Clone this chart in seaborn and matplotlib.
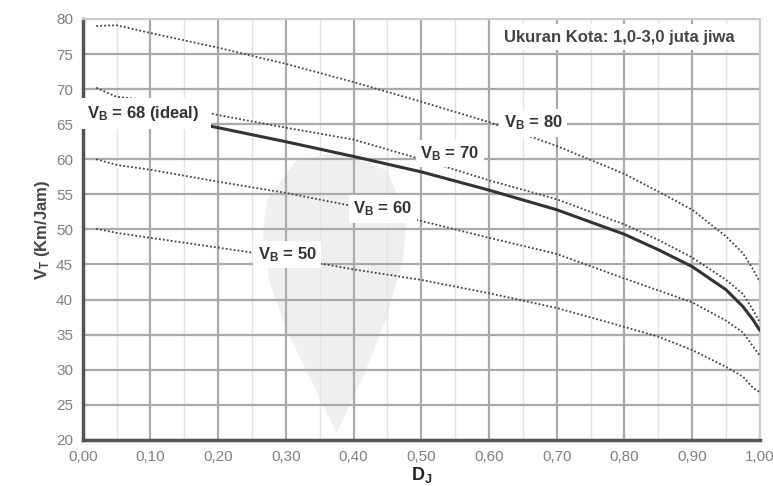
import matplotlib
matplotlib.use("Agg")
import matplotlib.pyplot as plt
import seaborn as sns
from matplotlib.ticker import MultipleLocator, FuncFormatter

sns.set_style("white")
plt.rcParams['font.family'] = ['Liberation Sans', 'DejaVu Sans']
plt.rcParams['mathtext.fontset'] = 'custom'
plt.rcParams['mathtext.rm'] = 'Liberation Sans'
plt.rcParams['mathtext.bf'] = 'Liberation Sans:bold'

# Data
dj = [0.02, 0.05, 0.10, 0.20, 0.30, 0.40, 0.50, 0.60, 0.70, 0.80, 0.85, 0.90, 0.95, 0.975, 0.99, 1.00]
vb80 = [79.0, 79.1, 78.0, 75.9, 73.6, 71.0, 68.2, 65.3, 61.9, 57.9, 55.4, 52.8, 49.0, 46.6, 44.3, 42.5]
vb70 = [70.2, 68.9, 68.4, 66.3, 64.5, 62.8, 60.0, 57.0, 54.3, 50.7, 48.5, 46.0, 42.8, 40.8, 38.5, 36.7]
vb68 = [68.0, 67.4, 66.3, 64.5, 62.5, 60.4, 58.2, 55.6, 52.8, 49.3, 47.1, 44.7, 41.4, 39.0, 37.1, 35.6]
vb60 = [60.0, 59.2, 58.5, 56.8, 55.2, 53.3, 51.2, 48.8, 46.5, 43.0, 41.3, 39.6, 37.0, 35.3, 33.3, 32.0]
vb50 = [50.1, 49.5, 48.8, 47.4, 46.0, 44.3, 42.8, 40.9, 38.8, 36.1, 34.7, 32.8, 30.4, 29.0, 27.4, 26.8]

labels = ["= 80", "= 70", "= 60", "= 50"]
label_pos = [(0.665, 65.2), (0.542, 60.8), (0.443, 52.9), (0.302, 46.4)]
ideal_label = "= 68 (ideal)"
ideal_pos = (0.006, 66.5)

fig = plt.figure(figsize=(7.73, 4.86), dpi=100)
ax = fig.add_axes([0.107, 0.095, 0.876, 0.866])

# faint watermark drop behind the grid
drop_x = [0.375, 0.303, 0.276, 0.266, 0.272, 0.316, 0.38, 0.449, 0.478, 0.473, 0.449, 0.414, 0.375]
drop_y = [21.0, 35.3, 42.4, 49.5, 54.2, 59.9, 60.9, 58.5, 51.8, 45.7, 37.5, 29.0, 21.0]
ax.fill(drop_x, drop_y, color='#efefef', zorder=0.1, lw=0)

dot = (0, (1, 1.2))
for ys in [vb80, vb70, vb60, vb50]:
    sns.lineplot(x=dj, y=ys, ax=ax, color='#444444', lw=1.3, linestyle=dot, zorder=3)
sns.lineplot(x=dj, y=vb68, ax=ax, color='#333333', lw=2.2, zorder=3)

for txt, (x, y) in zip(labels, label_pos):
    ax.text(x, y, r'$\mathbf{V_B}$ ' + txt, ha='center', va='center', fontsize=12,
            fontweight='bold', color='#333333', zorder=5,
            bbox=dict(facecolor='white', edgecolor='none', pad=3.2))

# ideal label sits over the left spine, with extra room on the right
ax.text(ideal_pos[0], ideal_pos[1], r'$\mathbf{V_B}$ ' + ideal_label + '  ', ha='left', va='center',
        fontsize=12, fontweight='bold', color='#333333', zorder=5, clip_on=False,
        bbox=dict(facecolor='white', edgecolor='none', pad=4.5))

ax.text(0.792, 77.4, 'Ukuran Kota: 1,0-3,0 juta jiwa', ha='center', va='center',
        fontsize=12, fontweight='bold', color='#444444', zorder=5,
        bbox=dict(facecolor='white', edgecolor='none', pad=4))

ax.set_xlim(0, 1.0)
ax.set_ylim(20, 80)
ax.xaxis.set_major_locator(MultipleLocator(0.1))
ax.xaxis.set_minor_locator(MultipleLocator(0.05))
ax.yaxis.set_major_locator(MultipleLocator(5))
ax.yaxis.set_minor_locator(MultipleLocator(2.5))
ax.xaxis.set_major_formatter(FuncFormatter(lambda v, p: f"{v:.2f}".replace('.', ',')))
ax.grid(which='major', color='#aaaaaa', lw=1.6, zorder=1)
ax.grid(which='minor', axis='x', color='#e4e4e4', lw=1.0, zorder=1)
ax.tick_params(which='both', direction='in', length=4, width=1.2, color='#444444',
               labelsize=11, labelcolor='#808080')
ax.tick_params(which='major', pad=7)

for s in ['top', 'right']:
    ax.spines[s].set_color('#cccccc')
    ax.spines[s].set_linewidth(1.5)
for s in ['left', 'bottom']:
    ax.spines[s].set_color('#555555')
    ax.spines[s].set_linewidth(2.5)
    ax.spines[s].set_zorder(2.5)

ax.set_xlabel(r'$\mathbf{D_J}$', fontsize=13, color='#222222', labelpad=1)
ax.set_ylabel(r'$\mathbf{V_T}$ (Km/Jam)', fontsize=12, fontweight='bold', color='#444444', labelpad=3)

fig.savefig('out.png', dpi=100)
